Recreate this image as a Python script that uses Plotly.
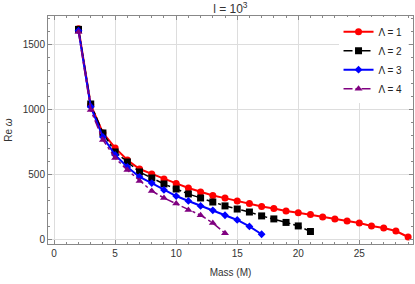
import plotly.graph_objects as go

mass1 = list(range(2, 30))
re1 = [1625, 1040, 823, 708, 615, 546, 508, 469, 435, 400, 369, 342, 322, 300, 280,
       258, 242, 223, 210, 195, 177, 162, 146, 131, 108, 92, 69, 23]
mass2 = list(range(2, 22))
re2 = [1620, 1046, 823, 677, 600, 523, 477, 431, 392, 354, 323, 292, 262, 238, 215,
       185, 162, 135, 108, 65]
mass3 = list(range(2, 18))
re3 = [1610, 1025, 792, 654, 562, 485, 438, 385, 338, 300, 262, 228, 190, 154, 104, 44]
mass4 = list(range(2, 15))
re4 = [1600, 1000, 769, 631, 538, 454, 377, 323, 280, 231, 190, 131, 52]

labels = ["Λ = 1", "Λ = 2", "Λ = 3", "Λ = 4"]
xticks = [0, 5, 10, 15, 20, 25]
yticks = [0, 500, 1000, 1500]

FONT = "Liberation Sans"

fig = go.Figure()
fig.add_trace(go.Scatter(x=mass1, y=re1, name=labels[0], mode="lines+markers",
                         line=dict(color="#ff0000", width=2),
                         marker=dict(symbol="circle", size=7, color="#ff0000")))
fig.add_trace(go.Scatter(x=mass2, y=re2, name=labels[1], mode="lines+markers",
                         line=dict(color="#000000", width=1.5, dash="dashdot"),
                         marker=dict(symbol="square", size=7, color="#000000")))
fig.add_trace(go.Scatter(x=mass3, y=re3, name=labels[2], mode="lines+markers",
                         line=dict(color="#0000ff", width=2),
                         marker=dict(symbol="diamond", size=6, color="#0000ff")))
fig.add_trace(go.Scatter(x=mass4, y=re4, name=labels[3], mode="lines+markers",
                         line=dict(color="#800080", width=1.5, dash="dashdot"),
                         marker=dict(symbol="triangle-up", size=7, color="#800080")))

axis_common = dict(
    showline=True, linecolor="#888888", linewidth=1, mirror="ticks",
    ticks="inside", ticklen=4, tickcolor="#888888", tickwidth=1,
    showgrid=True, gridcolor="#dddddd", gridwidth=1, zeroline=False,
    automargin=False,
    tickfont=dict(family=FONT, size=10, color="#333333"),
)

fig.update_layout(
    width=415, height=284,
    margin=dict(l=48, r=2, t=16, b=40),
    paper_bgcolor="white", plot_bgcolor="white",
    font=dict(family=FONT, size=10, color="#333333"),
    title=dict(text="l = 10<sup>3</sup>", x=0.555, xanchor="center", y=0.97, yanchor="middle",
               font=dict(family=FONT, size=12, color="#333333")),
    xaxis=dict(range=[-0.5, 29.4], tickvals=xticks,
               title=dict(text="Mass (M)", font=dict(family=FONT, size=10, color="#333333"), standoff=10),
               minor=dict(dtick=1, ticks="inside", ticklen=2, tickcolor="#888888", showgrid=False),
               **axis_common),
    yaxis=dict(range=[-31, 1723], tickvals=yticks,
               title=dict(text="Re <i>ω</i>", font=dict(family=FONT, size=10, color="#333333"), standoff=8),
               minor=dict(dtick=100, ticks="inside", ticklen=2, tickcolor="#888888", showgrid=False),
               **axis_common),
    legend=dict(x=0.985, y=0.995, xanchor="right", yanchor="top",
                bgcolor="white", borderwidth=0,
                font=dict(family=FONT, size=10, color="#222222"),
                tracegroupgap=0),
    showlegend=True,
)

fig.write_html("out.html", config={"displayModeBar": False},
               post_script="document.body.style.margin='0';")
